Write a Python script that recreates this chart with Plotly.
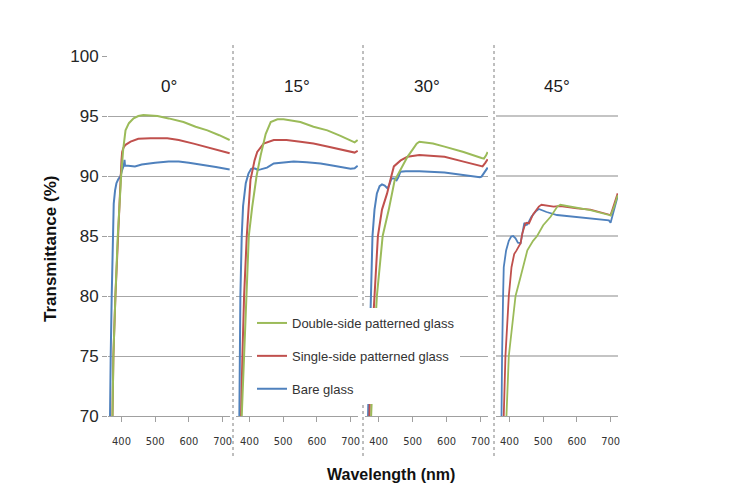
import plotly.graph_objects as go

# ---------------- data (wavelength nm, transmittance %) ----------------
panel_titles = ["0°", "15°", "30°", "45°"]
series_names = ["Double-side patterned glass", "Single-side patterned glass", "Bare glass"]
y_ticks = [70, 75, 80, 85, 90, 95, 100]
x_ticks = [400, 500, 600, 700]

# 0 degree
wl_0_bare = [362, 365, 368, 371, 374, 377, 381, 385, 390, 397, 402, 405, 407, 409, 410.5, 420, 440, 460, 480, 500, 540, 570, 600, 640, 680, 721]
t_0_bare = [60, 70, 75, 80, 85, 87.7, 88.8, 89.4, 89.7, 90.0, 90.5, 90.75, 90.9, 91.35, 90.85, 90.85, 90.8, 90.95, 91.05, 91.1, 91.2, 91.2, 91.1, 90.95, 90.75, 90.55]
wl_0_single = [368, 373, 376, 382, 389, 398, 400, 402, 406, 412, 427, 450, 486, 536, 570, 614, 660, 721]
t_0_single = [60, 70, 75, 80, 85, 90, 91.3, 92.0, 92.35, 92.6, 92.86, 93.1, 93.15, 93.15, 93.0, 92.7, 92.35, 91.9]
wl_0_double = [368, 373, 376, 382, 389, 399, 402, 405, 412, 422, 436, 450, 465, 490, 507, 540, 584, 620, 655, 690, 721]
t_0_double = [60, 70, 75, 80, 85, 90, 91.2, 92.2, 93.8, 94.4, 94.8, 95.0, 95.08, 95.05, 95.0, 94.8, 94.5, 94.1, 93.8, 93.4, 93.0]

# 15 degree
wl_15_bare = [367, 370, 372, 373, 377, 381, 389, 397, 405, 412, 418, 425, 433, 452, 472, 500, 531, 570, 611, 650, 700, 712, 721]
t_15_bare = [60, 70, 75, 80, 85, 87.5, 89.4, 90.2, 90.6, 90.65, 90.6, 90.5, 90.55, 90.7, 91.05, 91.15, 91.2, 91.15, 91.05, 90.85, 90.6, 90.65, 90.85]
wl_15_single = [372, 375, 379, 384, 392, 403, 407, 415, 423, 442, 472, 510, 551, 590, 631, 670, 705, 712, 721]
t_15_single = [60, 70, 75, 80, 85, 89.7, 90.2, 91.3, 92.0, 92.7, 93.0, 93.0, 92.86, 92.7, 92.45, 92.2, 92.0, 91.95, 92.1]
wl_15_double = [374, 377, 384, 392, 398, 408, 421, 433, 448, 463, 483, 501, 551, 590, 631, 670, 705, 712, 721]
t_15_double = [60, 70, 75, 80, 85, 87.4, 90.0, 91.7, 93.5, 94.5, 94.72, 94.72, 94.5, 94.1, 93.8, 93.35, 92.86, 92.8, 93.0]

# 30 degree
wl_30_bare = [366, 369, 373, 378, 380, 382, 388, 395, 403, 410, 418, 426, 432, 438, 446, 453, 458, 464, 480, 520, 594, 650, 698, 703, 713, 721]
t_30_bare = [60, 70, 75, 80, 83, 85, 87.2, 88.55, 89.15, 89.3, 89.2, 88.97, 89.3, 89.8, 89.8, 89.65, 89.9, 90.35, 90.4, 90.4, 90.3, 90.1, 89.9, 89.95, 90.4, 90.7]
wl_30_single = [370, 373, 378, 387, 398, 410, 425, 435, 445, 465, 485, 520, 560, 594, 650, 700, 706, 714, 721]
t_30_single = [60, 70, 75, 80, 85, 87.2, 88.55, 89.7, 90.8, 91.3, 91.6, 91.75, 91.7, 91.6, 91.2, 90.85, 90.8, 91.1, 91.4]
wl_30_double = [374, 378, 385, 395, 412, 430, 447, 455, 469, 485, 500, 512, 520, 560, 594, 650, 703, 710, 716, 721]
t_30_double = [60, 70, 75, 80, 85, 87.2, 89.6, 90.0, 90.8, 91.6, 92.2, 92.7, 92.86, 92.7, 92.45, 92.0, 91.5, 91.45, 91.7, 92.0]

# 45 degree
wl_45_bare = [373, 375, 378, 381, 383, 390, 398, 405, 411, 418, 425, 433, 440, 444, 448, 453, 465, 478, 487, 510, 541, 590, 640, 695, 700, 710, 721]
t_45_bare = [60, 70, 75, 80, 82.4, 83.8, 84.6, 84.95, 85.0, 84.8, 84.45, 84.4, 85.6, 86.1, 85.9, 85.95, 86.6, 87.05, 87.25, 87.0, 86.75, 86.6, 86.5, 86.3, 86.1, 87.2, 88.3]
wl_45_single = [379, 383, 388, 398, 406, 414, 421, 428, 433, 438, 447, 452, 458, 470, 487, 495, 531, 551, 600, 640, 695, 700, 710, 721]
t_45_single = [60, 70, 75, 80, 82.4, 83.5, 83.8, 84.2, 84.4, 85.2, 86.05, 86.1, 86.05, 86.8, 87.45, 87.6, 87.45, 87.5, 87.3, 87.2, 86.83, 86.75, 87.6, 88.55]
wl_45_double = [387, 391, 398, 418, 433, 453, 470, 482, 500, 522, 542, 551, 570, 600, 640, 695, 700, 710, 721]
t_45_double = [60, 70, 75, 80, 81.6, 83.8, 84.6, 85.0, 85.9, 86.6, 87.45, 87.6, 87.5, 87.35, 87.15, 86.75, 86.7, 87.4, 88.4]

# ---------------- figure ----------------
W, H = 734, 501
OFF = 8  # page offset of the figure (body margin)
GREEN, RED, BLUE = "#9BBB59", "#C0504D", "#4F81BD"


def fx(px):
    return (px - OFF) / W


def fy(py):
    return (H - (py - OFF)) / H


panels = [
    [(wl_0_bare, t_0_bare), (wl_0_single, t_0_single), (wl_0_double, t_0_double)],
    [(wl_15_bare, t_15_bare), (wl_15_single, t_15_single), (wl_15_double, t_15_double)],
    [(wl_30_bare, t_30_bare), (wl_30_single, t_30_single), (wl_30_double, t_30_double)],
    [(wl_45_bare, t_45_bare), (wl_45_single, t_45_single), (wl_45_double, t_45_double)],
]
x_px = [(108, 230), (236, 358), (365, 488), (496, 618)]
y_dom = [fy(416), fy(56)]

fig = go.Figure()
meta = [(BLUE, series_names[2], 3), (RED, series_names[1], 2), (GREEN, series_names[0], 1)]
for p, data in enumerate(panels):
    ax = "" if p == 0 else str(p + 1)
    for (wl, t), (col, name, rank) in zip(data, meta):
        fig.add_trace(go.Scatter(
            x=wl, y=t, mode="lines", name=name,
            line=dict(color=col, width=2 if p < 3 else 1.8),
            xaxis="x" + ax, yaxis="y" + ax,
            legendgroup=name, legendrank=rank, showlegend=(p == 0),
        ))

layout = dict(
    template="none",
    width=W, height=H, autosize=False,
    margin=dict(l=0, r=0, t=0, b=0, pad=0, autoexpand=False),
    paper_bgcolor="white", plot_bgcolor="white",
    font=dict(family="Liberation Sans, Arial, sans-serif", color="#262626"),
    legend=dict(
        x=fx(252), y=fy(308), xanchor="left", yanchor="top",
        bgcolor="white", borderwidth=0, itemwidth=30, tracegroupgap=13,
        font=dict(size=13, color="#333333", family="Liberation Sans, Arial, sans-serif"),
        traceorder="grouped",
    ),
)
for p in range(4):
    ax = "" if p == 0 else str(p + 1)
    a, b = x_px[p]
    layout["xaxis" + ax] = dict(
        domain=[fx(a), fx(b)], range=[360, 722], anchor="y" + ax, automargin=False,
        tickvals=x_ticks, ticktext=[str(v) for v in x_ticks],
        showgrid=False, zeroline=False, showline=True, linecolor="#a0a0a0", linewidth=1,
        ticks="outside", ticklen=5, tickcolor="#a0a0a0", ticklabelstandoff=10,
        tickfont=dict(size=11, color="#333333",
                      family="Liberation Sans Narrow, DejaVu Sans Condensed, Arial Narrow, sans-serif"),
    )
    layout["yaxis" + ax] = dict(
        domain=y_dom, range=[70, 100], anchor="x" + ax, automargin=False,
        tickvals=y_ticks, showticklabels=(p == 0),
        showgrid=True, gridcolor="#a6a6a6" if p < 3 else "#c4c4c4", gridwidth=1 if p < 3 else 2,
        zeroline=False, showline=False,
        ticks="outside" if p == 0 else "", ticklen=5, tickcolor="#a0a0a0",
        tickfont=dict(size=17, color="#262626"),
    )
    if p > 0:
        layout["yaxis" + ax]["matches"] = "y"
fig.update_layout(**layout)

# panel titles
for p, title in enumerate(panel_titles):
    a, b = x_px[p]
    fig.add_annotation(x=fx((a + b) / 2), y=fy(86), xref="paper", yref="paper",
                       text=title, showarrow=False, font=dict(size=17, color="#1a1a1a"),
                       xanchor="center", yanchor="middle")

# axis titles
fig.add_annotation(x=fx(50), y=fy(249), xref="paper", yref="paper",
                   text="<b>Transmittance (%)</b>", textangle=-90, showarrow=False,
                   font=dict(size=17, color="#111111"), xanchor="center", yanchor="middle")
fig.add_annotation(x=fx(391), y=fy(474), xref="paper", yref="paper",
                   text="<b>Wavelength (nm)</b>", showarrow=False,
                   font=dict(size=16, color="#111111"), xanchor="center", yanchor="middle")

# dotted separators between panels
for xs in (233, 363, 494):
    fig.add_shape(type="line", xref="paper", yref="paper",
                  x0=fx(xs), x1=fx(xs), y0=fy(45), y1=fy(458),
                  line=dict(color="#7f7f7f", width=1, dash="dot"))

fig.write_html("out.html")
